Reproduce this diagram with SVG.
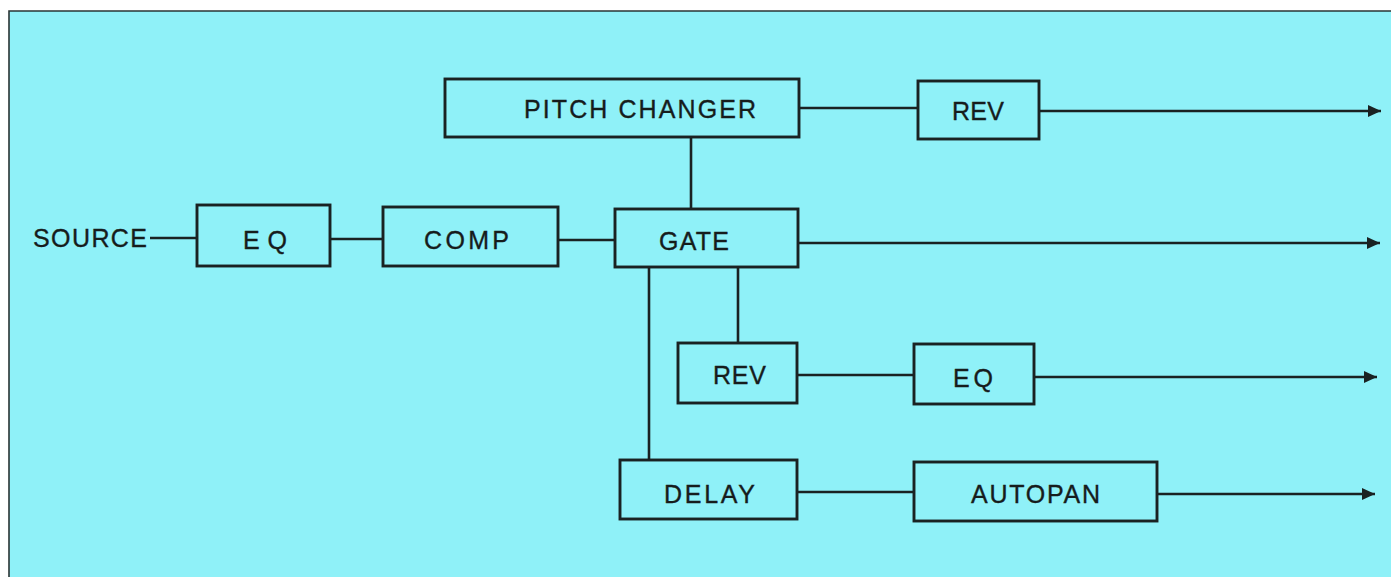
<svg xmlns="http://www.w3.org/2000/svg" width="1391" height="579" viewBox="0 0 1391 579">
<style>
.bg{fill:#8ff1f8;}
.frame{fill:none;stroke:#2a3434;stroke-width:1.6;}
.box{fill:none;stroke:#1a2222;stroke-width:2.9;}
.wire{fill:none;stroke:#1a2222;stroke-width:2.6;}
.lbl{font-family:"Liberation Sans",Arial,sans-serif;font-size:25px;fill:#161c1c;stroke:#161c1c;stroke-width:0.35;}
</style>
<defs>
<marker id="ah" markerUnits="userSpaceOnUse" markerWidth="15" markerHeight="13" refX="13" refY="6.5" orient="auto">
<path d="M0,0.5 L13,6.5 L0,12.5 Z" fill="#1a2222"/>
</marker>
</defs>
<rect x="0" y="0" width="1391" height="579" fill="#ffffff"/>
<rect class="bg" x="9" y="11" width="1382" height="566"/>
<path class="frame" d="M9,577 L9,11 L1391,11"/>

<g id="connectors">
<line class="wire" x1="150" y1="238" x2="197" y2="238"/>
<line class="wire" x1="330" y1="239" x2="383" y2="239"/>
<line class="wire" x1="558" y1="240" x2="615" y2="240"/>
<line class="wire" x1="799" y1="108" x2="918" y2="108"/>
<line class="wire" x1="1039" y1="111" x2="1381" y2="111" marker-end="url(#ah)"/>
<line class="wire" x1="691" y1="137" x2="691" y2="209"/>
<line class="wire" x1="798" y1="243" x2="1380" y2="243" marker-end="url(#ah)"/>
<line class="wire" x1="738" y1="267" x2="738" y2="343"/>
<line class="wire" x1="649" y1="267" x2="649" y2="460"/>
<line class="wire" x1="797" y1="375" x2="914" y2="375"/>
<line class="wire" x1="1034" y1="377" x2="1377" y2="377" marker-end="url(#ah)"/>
<line class="wire" x1="797" y1="492" x2="914" y2="492"/>
<line class="wire" x1="1157" y1="494" x2="1375" y2="494" marker-end="url(#ah)"/>
</g>

<g id="source">
<text class="lbl" x="33" y="247" textLength="114" lengthAdjust="spacing">SOURCE</text>
</g>
<g id="eq1">
<rect class="box" x="197" y="205" width="133" height="61"/>
<text class="lbl" x="243" y="249" textLength="44" lengthAdjust="spacing">EQ</text>
</g>
<g id="comp">
<rect class="box" x="383" y="207" width="175" height="59"/>
<text class="lbl" x="424" y="249" textLength="85" lengthAdjust="spacing">COMP</text>
</g>
<g id="gate">
<rect class="box" x="615" y="209" width="183" height="58"/>
<text class="lbl" x="659" y="250" textLength="70" lengthAdjust="spacing">GATE</text>
</g>
<g id="pitch-changer">
<rect class="box" x="445" y="79" width="354" height="58"/>
<text class="lbl" x="524" y="118" textLength="232" lengthAdjust="spacing">PITCH CHANGER</text>
</g>
<g id="rev1">
<rect class="box" x="918" y="81" width="121" height="58"/>
<text class="lbl" x="952" y="120" textLength="52" lengthAdjust="spacing">REV</text>
</g>
<g id="rev2">
<rect class="box" x="678" y="343" width="119" height="60"/>
<text class="lbl" x="713" y="384" textLength="53" lengthAdjust="spacing">REV</text>
</g>
<g id="eq2">
<rect class="box" x="914" y="344" width="120" height="60"/>
<text class="lbl" x="953" y="387" textLength="40" lengthAdjust="spacing">EQ</text>
</g>
<g id="delay">
<rect class="box" x="620" y="460" width="177" height="59"/>
<text class="lbl" x="664" y="503" textLength="91" lengthAdjust="spacing">DELAY</text>
</g>
<g id="autopan">
<rect class="box" x="914" y="462" width="243" height="59"/>
<text class="lbl" x="971" y="503" textLength="129" lengthAdjust="spacing">AUTOPAN</text>
</g>
</svg>
